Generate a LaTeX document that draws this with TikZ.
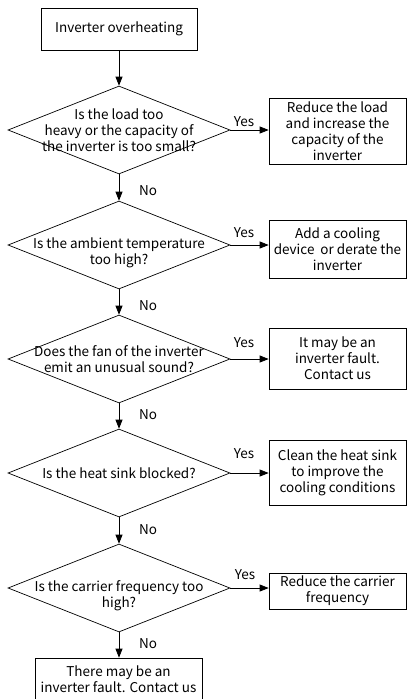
\documentclass[tikz,border=0pt]{standalone}
\usepackage{fontspec}
\setmainfont{Noto Sans CJK SC}
\usetikzlibrary{shapes.geometric,arrows.meta}
\begin{document}
\begin{tikzpicture}[x=1pt,y=-1pt,
  every node/.style={font=\fontsize{13.5}{16}\selectfont},
  box/.style={draw,line width=0.7pt,rectangle,inner sep=0pt,align=center,minimum width=137pt},
  dia/.style={draw,line width=0.7pt,diamond,inner sep=0pt,minimum width=222pt,minimum height=88pt},
  qtext/.style={align=center,inner sep=0pt},
  lab/.style={inner sep=0pt},
  arr/.style={line width=0.7pt,-{Triangle[length=9pt,width=7pt]}}]
\useasboundingbox (0,0) rectangle (407,699);
% start
\node[box,minimum width=156pt,minimum height=42pt] (start) at (119,29) {Inverter overheating};
% diamonds
\node[dia] (d1) at (119,130) {};
\node[dia] (d2) at (119,245) {};
\node[dia] (d3) at (119,359) {};
\node[dia] (d4) at (119,473) {};
\node[dia] (d5) at (119,588) {};
\node[qtext] (t1) at (119,130) {Is the load too\\heavy or the capacity of\\the inverter is too small?};
\node[qtext] (t2) at (119,253) {Is the ambient temperature\\too high?};
\node[qtext] (t3) at (119,359.5) {Does the fan of the inverter\\emit an unusual sound?};
\node[qtext] (t4) at (119,473) {Is the heat sink blocked?};
\node[qtext] (t5) at (119,596) {Is the carrier frequency too\\high?};
% yes boxes
\node[box,minimum height=66pt] (b1) at (337.5,131) {Reduce the load\\and increase the\\capacity of the\\inverter};
\node[box,minimum height=58pt] (b2) at (337.5,249) {Add a cooling\\device\hspace{6pt}or derate the\\inverter};
\node[box,minimum height=61pt] (b3) at (337.5,358.5) {It may be an\\inverter fault.\\Contact us};
\node[box,minimum height=65pt] (b4) at (337.5,472.5) {Clean the heat sink\\to improve the\\cooling conditions};
\node[box,minimum height=36pt] (b5) at (337.5,591) {Reduce the carrier\\frequency};
% final box
\node[box,minimum width=167pt,minimum height=43pt] (fin) at (118.5,679.5) {There may be an\\inverter fault. Contact us};
% vertical arrows
\draw[arr] (start.south) -- (d1.north);
\draw[arr] (d1.south) -- (d2.north);
\draw[arr] (d2.south) -- (d3.north);
\draw[arr] (d3.south) -- (d4.north);
\draw[arr] (d4.south) -- (d5.north);
\draw[arr] (d5.south) -- (d5.south |- fin.north);
% yes arrows
\draw[arr] (d1.east) -- (d1.east -| b1.west);
\draw[arr] (d2.east) -- (d2.east -| b2.west);
\draw[arr] (d3.east) -- (d3.east -| b3.west);
\draw[arr] (d4.east) -- (d4.east -| b4.west);
\draw[arr] (d5.east) -- (d5.east -| b5.west);
% labels
\node[lab] (y1) at (244,122) {Yes};
\node[lab] (y2) at (244,233) {Yes};
\node[lab] (y3) at (244,343) {Yes};
\node[lab] (y4) at (244,454) {Yes};
\node[lab] (y5) at (245,575) {Yes};
\node[lab] (n1) at (148,191) {No};
\node[lab] (n2) at (148,306) {No};
\node[lab] (n3) at (148,415) {No};
\node[lab] (n4) at (148,530) {No};
\node[lab] (n5) at (148,644) {No};
\end{tikzpicture}
\end{document}
